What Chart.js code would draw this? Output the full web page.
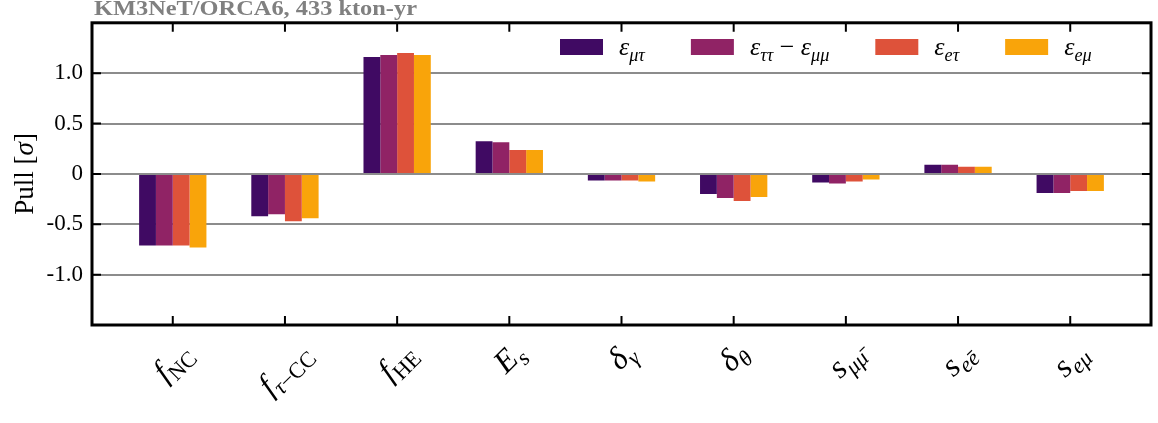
<!DOCTYPE html>
<html>
<head>
<meta charset="utf-8">
<script src="https://cdn.jsdelivr.net/npm/chart.js@4"></script>
<style>
  html, body { margin: 0; padding: 0; background: #fff; }
  #chart { display: block; }
</style>
</head>
<body>
<canvas id="chart" width="1158" height="423"></canvas>
<script>
// categories (nuisance parameters), tex-like: base_{sub}
const categories = ['f_{NC}', 'f_{τ−CC}', 'f_{HE}', 'E_{s}', 'δ_{γ}', 'δ_{θ}', 's_{μμ̄}', 's_{eē}', 's_{eμ}'];
const seriesNames = ['ε_{μτ}', 'ε_{ττ} − ε_{μμ}', 'ε_{eτ}', 'ε_{eμ}'];
const seriesColors = ['#400a63', '#902365', '#de523a', '#f9a40a'];

// pulls in sigma
const pullEmt = [-0.71, -0.42, 1.16, 0.325, -0.065, -0.20, -0.085, 0.09, -0.19];
const pullEttMinusEmm = [-0.71, -0.40, 1.18, 0.315, -0.065, -0.24, -0.095, 0.09, -0.19];
const pullEet = [-0.71, -0.47, 1.20, 0.237, -0.065, -0.27, -0.075, 0.07, -0.17];
const pullEem = [-0.73, -0.44, 1.18, 0.237, -0.075, -0.23, -0.055, 0.07, -0.17];

const yTicks = [-1.0, -0.5, 0, 0.5, 1.0];
const titleText = 'KM3NeT/ORCA6, 433 kton-yr';
const yTitle = 'Pull [σ]';

const SERIF = '"Liberation Serif", "DejaVu Serif", serif';

// split "a_{bc} − d_{e}" into runs of {t, sub, it}
function parseTex(s) {
    const out = [];
    let i = 0;
    const push = (ch, sub) => {
        let it = !(ch === ' ' || ch === '−' || ch === '[' || ch === ']');
        if (sub && /[A-Z]/.test(ch)) it = false;
        const last = out[out.length - 1];
        if (last && last.sub === sub && last.it === it) last.t += ch;
        else out.push({ t: ch, sub: sub, it: it });
    };
    while (i < s.length) {
        if (s[i] === '_' && s[i + 1] === '{') {
            const j = s.indexOf('}', i);
            for (const ch of s.slice(i + 2, j)) push(ch, true);
            i = j + 1;
        } else {
            push(s[i], false);
            i++;
        }
    }
    return out;
}

function runFont(r, size) {
    const sz = r.sub ? size * 0.7 : size;
    return (r.it ? 'italic ' : '') + sz + 'px ' + SERIF;
}

function runsWidth(ctx, runs, size) {
    let w = 0;
    for (const r of runs) {
        ctx.font = runFont(r, size);
        w += ctx.measureText(r.t).width;
    }
    return w;
}

function drawRuns(ctx, runs, x, y, size) {
    ctx.textAlign = 'left';
    ctx.textBaseline = 'alphabetic';
    for (const r of runs) {
        ctx.font = runFont(r, size);
        ctx.fillText(r.t, x, r.sub ? y + size * 0.22 : y);
        x += ctx.measureText(r.t).width;
    }
}

const decor = {
    id: 'decor',
    afterDatasetsDraw(chart) {
        const ctx = chart.ctx;
        const ca = chart.chartArea;
        const xs = chart.scales.x, ys = chart.scales.y;
        ctx.save();
        ctx.fillStyle = '#000';
        ctx.strokeStyle = '#000';

        // inward ticks
        ctx.lineWidth = 2;
        ctx.beginPath();
        categories.forEach((c, i) => {
            const px = xs.getPixelForValue(i);
            ctx.moveTo(px, ca.top); ctx.lineTo(px, ca.top + 9);
            ctx.moveTo(px, ca.bottom); ctx.lineTo(px, ca.bottom - 9);
        });
        yTicks.forEach(v => {
            const py = ys.getPixelForValue(v);
            ctx.moveTo(ca.left, py); ctx.lineTo(ca.left + 9, py);
            ctx.moveTo(ca.right, py); ctx.lineTo(ca.right - 9, py);
        });
        ctx.stroke();

        // frame
        ctx.lineWidth = 3;
        ctx.strokeRect(ca.left, ca.top, ca.right - ca.left, ca.bottom - ca.top);

        // rotated x labels
        const S = 32;
        categories.forEach((c, i) => {
            const runs = parseTex(c);
            const w = runsWidth(ctx, runs, S);
            const px = xs.getPixelForValue(i);
            const half = (w + S * 0.8) / (2 * Math.SQRT2);
            ctx.save();
            ctx.translate(px, ca.bottom + 14 + half);
            ctx.rotate(-Math.PI / 4);
            drawRuns(ctx, runs, -w / 2, S * 0.3, S);
            ctx.restore();
        });

        // y title
        const parts = [];
        for (const r of parseTex(yTitle)) {
            r.t.split(/(σ)/).filter(Boolean).forEach(p => parts.push({ t: p, sub: false, it: p === 'σ' }));
        }
        const tw = runsWidth(ctx, parts, 27);
        ctx.save();
        ctx.translate(33, (ca.top + ca.bottom) / 2);
        ctx.rotate(-Math.PI / 2);
        drawRuns(ctx, parts, -tw / 2, 0, 27);
        ctx.restore();

        // legend
        let lx = 560;
        seriesNames.forEach((name, k) => {
            ctx.fillStyle = seriesColors[k];
            ctx.fillRect(lx, 39, 43, 16);
            ctx.fillStyle = '#000';
            const runs = parseTex(name);
            drawRuns(ctx, runs, lx + 59, 55, 26);
            lx += 59 + runsWidth(ctx, runs, 26) + 46;
        });

        // title, stretched to the width it has in the reference
        ctx.fillStyle = '#808080';
        ctx.font = 'bold 21px ' + SERIF;
        ctx.textAlign = 'left';
        ctx.textBaseline = 'alphabetic';
        const mw = ctx.measureText(titleText).width;
        ctx.translate(94, 15);
        ctx.scale(323 / mw, 1);
        ctx.fillText(titleText, 0, 0);
        ctx.restore();
    }
};

const allSeries = [pullEmt, pullEttMinusEmm, pullEet, pullEem];

new Chart(document.getElementById('chart'), {
    type: 'bar',
    data: {
        datasets: allSeries.map((vals, k) => ({
            label: seriesNames[k],
            backgroundColor: seriesColors[k],
            borderWidth: 0,
            data: vals.map((v, i) => ({ x: i, y: v })),
            categoryPercentage: 0.6,
            barPercentage: 1.0,
        })),
    },
    options: {
        responsive: false,
        animation: false,
        devicePixelRatio: 1,
        layout: { padding: { top: 19, right: 7, left: 0, bottom: 0 } },
        plugins: {
            legend: { display: false },
            tooltip: { enabled: false },
        },
        scales: {
            x: {
                type: 'linear',
                offset: false,
                min: -0.72,
                max: 8.72,
                afterBuildTicks: s => { s.ticks = categories.map((c, i) => ({ value: i })); },
                grid: { display: false },
                border: { display: false },
                ticks: { display: false },
                afterFit: s => { s.height = 98; },
            },
            y: {
                min: -1.5,
                max: 1.5,
                afterBuildTicks: s => { s.ticks = yTicks.map(v => ({ value: v })); },
                ticks: {
                    color: '#000',
                    padding: 9,
                    font: { family: SERIF, size: 23 },
                    callback: v => (v === 0 ? '0' : v.toFixed(1)),
                },
                grid: { color: '#8c8c8c', lineWidth: 2, drawTicks: false },
                border: { display: false },
                afterFit: s => { s.width = 92; },
            },
        },
    },
    plugins: [decor],
});
</script>
</body>
</html>
